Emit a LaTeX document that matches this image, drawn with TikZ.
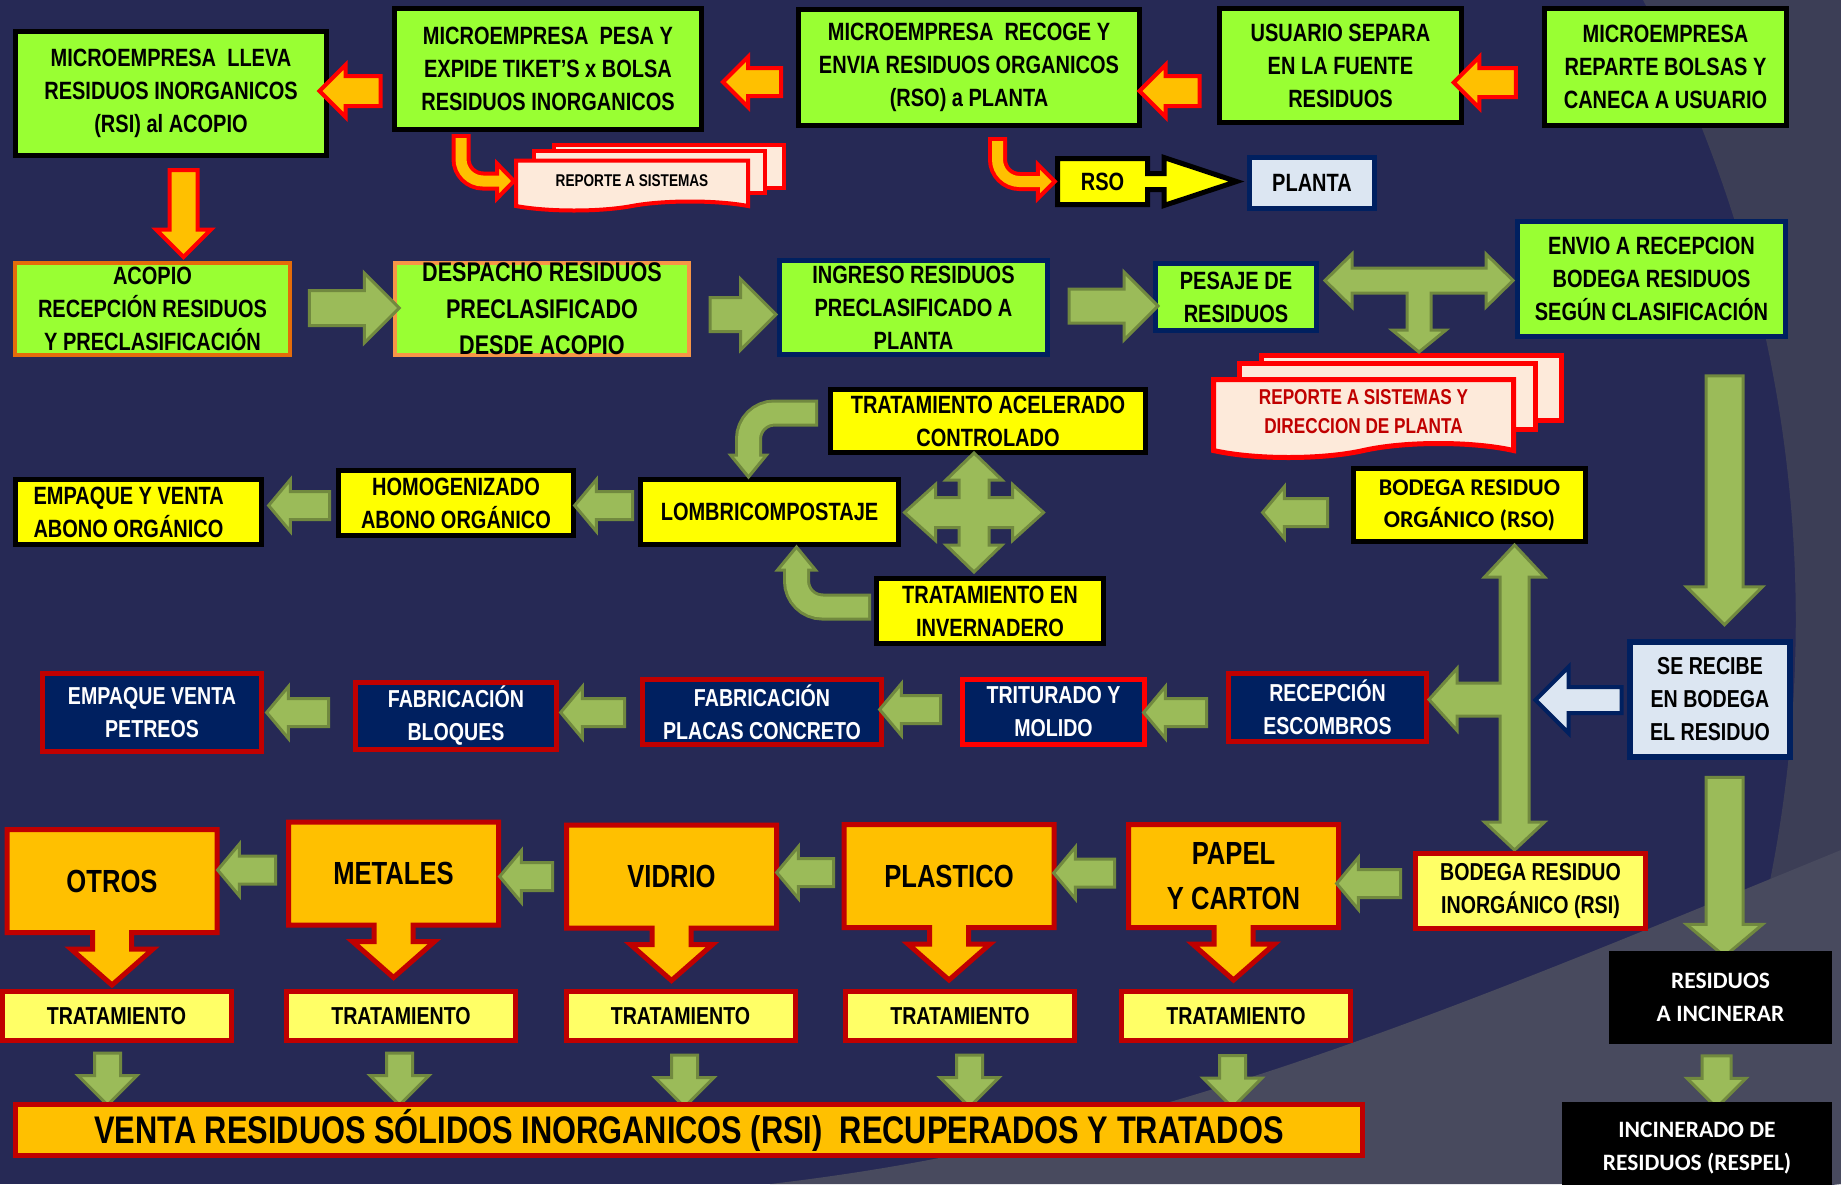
\documentclass[tikz,border=0pt]{standalone}
\usepackage{fontspec}
\setmainfont{Liberation Sans}
\newfontfamily\narrowfont{Liberation Sans}[FakeStretch=0.8]
\newfontfamily\calibfont{Carlito}
\usetikzlibrary{shapes.arrows,shapes.symbols,calc}

\definecolor{fondo}{RGB}{38,41,85}
\definecolor{fondoA}{RGB}{60,62,86}
\definecolor{fondoB}{RGB}{72,74,94}
\definecolor{lima}{RGB}{153,255,51}
\definecolor{naranjaB}{RGB}{228,108,10}
\definecolor{naranjaC}{RGB}{247,150,70}
\definecolor{marino}{RGB}{0,32,96}
\definecolor{amarillo}{RGB}{255,255,0}
\definecolor{amarilloC}{RGB}{255,255,102}
\definecolor{naranja}{RGB}{255,192,0}
\definecolor{rojo}{RGB}{255,0,0}
\definecolor{rojoO}{RGB}{192,0,0}
\definecolor{verdeF}{RGB}{155,187,89}
\definecolor{verdeL}{RGB}{113,137,63}
\definecolor{celeste}{RGB}{220,230,242}
\definecolor{hoja}{RGB}{253,234,218}

\tikzset{
  box/.style={rectangle, inner sep=0pt, align=center},
  sz/.style 2 args={minimum width=#1pt, minimum height=#2pt},
  arr/.style n args={3}{minimum height=#1pt, minimum width=0pt, inner xsep=0pt, inner ysep=#3*0.5pt, single arrow head extend={(#2-#3)*0.5pt}},
  fA/.style={font=\narrowfont\bfseries\fontsize{25}{33}\selectfont},
  fB/.style={font=\narrowfont\bfseries\fontsize{27}{36.5}\selectfont},
  fC/.style={font=\narrowfont\bfseries\fontsize{32}{45}\selectfont},
  fD/.style={font=\calibfont\bfseries\fontsize{24}{32}\selectfont},
  fT/.style={font=\narrowfont\bfseries\fontsize{24.5}{33}\selectfont},
  vbox/.style={box, fill=lima, draw=black, line width=5pt, fA},
  nbox/.style={box, fill=lima, draw=marino, line width=5pt, fA},
  ybox/.style={box, fill=amarillo, draw=black, line width=5pt, fA},
  rbox/.style={box, fill=marino, draw=rojoO, line width=5pt, text=white, fT},
  tbox/.style={box, fill=amarilloC, draw=rojoO, line width=5pt, sz={229}{49}, fT},
  cbox/.style={fill=naranja, draw=rojoO, line width=5pt},
  oarrow/.style={single arrow, fill=naranja, draw=rojo, line width=4pt},
  garrow/.style={single arrow, fill=verdeF, draw=verdeL, line width=3pt},
  gpoly/.style={fill=verdeF, draw=verdeL, line width=3pt},
  docb/.style={rectangle, fill=hoja, draw=rojo, line width=4pt},
  docf/.style={tape, tape bend top=none, tape bend bottom=in and out, fill=hoja, draw=rojo, line width=4pt, inner sep=0pt, align=center},
}

\begin{document}
\begin{tikzpicture}[x=1pt, y=-1pt]
\useasboundingbox (0,0) rectangle (1841,1184);
% fondo
\fill[fondo] (0,0) rectangle (1841,1184);
\fill[fondoA] (1643,0) arc[start angle=27.7, end angle=-26, radius=1333pt] -- (1841,1184) -- (1841,0) -- cycle;
\fill[fondoB] (770,1184) .. controls (1150,1140) and (1450,1010) .. (1841,850) -- (1841,1184) -- cycle;

% fila 1
\node[vbox, sz={311}{124}] (lleva) at (171,93.5) {MICROEMPRESA~~LLEVA\\RESIDUOS INORGANICOS\\(RSI) al ACOPIO};
\node[vbox, sz={307}{121}] (pesa) at (548,69) {MICROEMPRESA~~PESA Y\\EXPIDE TIKET’S x BOLSA\\RESIDUOS INORGANICOS};
\node[vbox, sz={341}{116}] (recoge) at (969,67.5) {MICROEMPRESA~~RECOGE Y\\ENVIA RESIDUOS ORGANICOS\\(RSO) a PLANTA};
\node[vbox, sz={242}{114}] (separa) at (1340.5,65.5) {USUARIO SEPARA\\EN LA FUENTE\\RESIDUOS};
\node[vbox, sz={242}{117}] (reparte) at (1665.5,67) {MICROEMPRESA\\REPARTE BOLSAS Y\\CANECA A USUARIO};

\node[oarrow, rotate=180, arr={62}{47}{25}] (f54) at (1492,82.5) {};
\node[oarrow, rotate=180, arr={60}{48}{26}] (f43) at (1177,91) {};
\node[oarrow, rotate=180, arr={58}{46}{24}] (f32) at (759,82) {};
\node[oarrow, rotate=180, arr={61}{48}{26}] (f21) at (357.5,91) {};
\node[oarrow, rotate=-90, arr={87}{51}{24}] (f1a) at (183.5,206.5) {};

% reportes
\node[docb, sz={230}{43}] (rep1c) at (669,166.5) {};
\node[docb, sz={231}{42}] (rep1b) at (649.5,172) {};
\node[docf, sz={232}{50}, tape bend height=9pt, font=\narrowfont\bfseries\fontsize{17}{20}\selectfont] (rep1) at (632,181) {REPORTE A SISTEMAS};

\draw[line width=19pt, rojo, rounded corners=22pt] ($(pesa.south)+(-87,2)$) |- ($(rep1.west)+(-16,0)$);
\draw[fill=naranja, draw=rojo, line width=4pt] (rep1.west) -- ++(-17,-17.5) -- ++(0,35) -- cycle;
\draw[line width=11pt, naranja, rounded corners=22pt, shorten <=4pt] ($(pesa.south)+(-87,2)$) |- ($(rep1.west)+(-14,0)$);

% RSO y planta
\coordinate (rsoc) at (1102.5,181.5);
\draw[fill=amarillo, draw=black, line width=5pt, shift={(rsoc)}] (-45,-23) -- (45,-23) -- (45,-8) -- (61.5,-8) -- (61.5,-24) -- (134,0) -- (61.5,24) -- (61.5,8) -- (45,8) -- (45,23) -- (-45,23) -- cycle;
\node[box, sz={95}{51}, fA] (rso) at (rsoc) {RSO};
\node[box, fill=celeste, draw=marino, line width=5pt, sz={125}{51}, fA] (planta) at (1312,183) {PLANTA};

\draw[line width=19pt, rojo, rounded corners=22pt] ($(recoge.south)+(28.5,9)$) |- ($(rso.west)+(-16,0)$);
\draw[fill=naranja, draw=rojo, line width=4pt] (rso.west) -- ++(-17,-17) -- ++(0,34) -- cycle;
\draw[line width=11pt, naranja, rounded corners=22pt, shorten <=4pt] ($(recoge.south)+(28.5,9)$) |- ($(rso.west)+(-14,0)$);

% fila 2
\node[box, fill=lima, draw=naranjaB, line width=4pt, sz={275}{92}, fA] (acopio) at (152.5,309) {ACOPIO\\RECEPCIÓN RESIDUOS\\Y PRECLASIFICACIÓN};
\node[box, fill=lima, draw=naranjaC, line width=4pt, sz={294}{92}, fB] (despacho) at (542,309) {DESPACHO RESIDUOS\\PRECLASIFICADO\\DESDE ACOPIO};
\node[nbox, sz={268}{94}] (ingreso) at (913.5,307.5) {INGRESO RESIDUOS\\PRECLASIFICADO A\\PLANTA};
\node[nbox, sz={161}{67}] (pesaje) at (1236,297) {PESAJE DE\\RESIDUOS};
\node[nbox, sz={268}{115}] (envio) at (1651.5,279) {ENVIO A RECEPCION\\BODEGA RESIDUOS\\SEGÚN CLASIFICACIÓN};

\node[garrow, arr={90}{67}{32}] (g12) at (345.5,308) {};
\node[garrow, arr={66}{68}{31}] (g23) at (734.5,314.5) {};
\node[garrow, arr={89}{65}{31}] (g34) at (1105,306) {};

\node[docb, sz={300}{65}, line width=5pt] (rep2c) at (1411.5,388) {};
\node[docb, sz={296}{66}, line width=5pt] (rep2b) at (1387.5,396.5) {};
\node[docf, sz={300}{78}, line width=5pt, tape bend height=14pt, text=rojoO, font=\narrowfont\bfseries\fontsize{21.5}{29}\selectfont] (rep2) at (1363.5,411.5) {REPORTE A SISTEMAS Y\\DIRECCION DE PLANTA};

\coordinate (tcruce) at (1419,280.5);
\draw[gpoly, shift={(tcruce)}] (-94,0) -- (-67,-26.5) -- (-67,-12.5) -- (67,-12.5) -- (67,-26.5) -- (94,0) -- (67,26.5) -- (67,12.5) -- (12,12.5) -- (12,49.5) -- (27,49.5) -- (0,71.5) -- (-27,49.5) -- (-12,49.5) -- (-12,12.5) -- (-67,12.5) -- (-67,26.5) -- cycle;

\node[garrow, rotate=-90, arr={249}{73}{34}] (bajada1) at (1724.5,491) {};

% fila 3 (organicos)
\node[ybox, sz={315}{63}] (acelerado) at (988,421) {TRATAMIENTO ACELERADO\\CONTROLADO};
\node[ybox, sz={258}{65}] (lombri) at (769.5,512) {LOMBRICOMPOSTAJE};
\node[ybox, sz={235}{65}] (homog) at (456,503) {HOMOGENIZADO\\ABONO ORGÁNICO};
\node[ybox, sz={246}{65}, text width=210pt, align=flush left] (abono) at (138.5,512) {EMPAQUE Y VENTA\\ABONO ORGÁNICO};
\node[ybox, sz={227}{65}] (invernadero) at (990,611) {TRATAMIENTO EN\\INVERNADERO};
\node[ybox, sz={232}{73}, fD] (bodegaO) at (1469.5,505) {BODEGA RESIDUO\\ORGÁNICO (RSO)};

\coordinate (cruz) at (974,512.5);
\draw[gpoly, shift={(cruz)}] (-69.5,0) -- (-38.5,-28) -- (-38.5,-15) -- (-15,-15) -- (-15,-32.5) -- (-28,-32.5) -- (0,-59.5) -- (28,-32.5) -- (15,-32.5) -- (15,-15) -- (38.5,-15) -- (38.5,-28) -- (69.5,0) -- (38.5,28) -- (38.5,15) -- (15,15) -- (15,32.5) -- (28,32.5) -- (0,59.5) -- (-28,32.5) -- (-15,32.5) -- (-15,15) -- (-38.5,15) -- (-38.5,28) -- cycle;

\draw[verdeL, line width=27pt, rounded corners=26pt] ($(acelerado.west)+(-10,-8)$) -| ($(lombri.north)+(-21,-22)$);
\draw[gpoly] ($(lombri.north)+(-21,0)$) -- ++(-18,-22) -- ++(36,0) -- cycle;
\draw[verdeF, line width=21pt, rounded corners=26pt, shorten <=3pt] ($(acelerado.west)+(-10,-8)$) -| ($(lombri.north)+(-21,-20)$);

\draw[verdeL, line width=27pt, rounded corners=26pt] ($(invernadero.west)+(-3,-4)$) -| ($(lombri.south)+(27,23)$);
\draw[gpoly] ($(lombri.south)+(27,0)$) -- ++(-19,23) -- ++(38,0) -- cycle;
\draw[verdeF, line width=21pt, rounded corners=26pt, shorten <=3pt] ($(invernadero.west)+(-3,-4)$) -| ($(lombri.south)+(27,21)$);

% fila 4 (escombros)
\node[single arrow, fill=celeste, draw=marino, line width=4pt, rotate=180, arr={86}{62}{22}] (recibeflecha) at (1585,700) {};
\node[box, fill=celeste, draw=marino, line width=6pt, sz={160}{115}, fT] (recibe) at (1710,699.5) {SE RECIBE\\EN BODEGA\\EL RESIDUO};
\node[rbox, sz={219}{78}] (petreos) at (152,712.5) {EMPAQUE VENTA\\PETREOS};
\node[rbox, sz={201}{67}] (bloques) at (456,716) {FABRICACIÓN\\BLOQUES};
\node[rbox, sz={239}{65}] (placas) at (762,712) {FABRICACIÓN\\PLACAS CONCRETO};
\node[rbox, sz={182}{65}, draw=rojo] (triturado) at (1053.5,712) {TRITURADO Y\\MOLIDO};
\node[rbox, sz={198}{68}] (escombros) at (1327.5,707.5) {RECEPCIÓN\\ESCOMBROS};

\coordinate (vcruce) at (1514.5,699.5);
\draw[gpoly, shift={(vcruce)}] (0,-154.5) -- (30,-122.5) -- (14.5,-122.5) -- (14.5,122.5) -- (30,122.5) -- (0,150.5) -- (-30,122.5) -- (-14.5,122.5) -- (-14.5,16.5) -- (-57.5,16.5) -- (-57.5,31) -- (-85.5,0) -- (-57.5,-31) -- (-57.5,-16.5) -- (-14.5,-16.5) -- (-14.5,-122.5) -- (-30,-122.5) -- cycle;

\node[garrow, rotate=-90, arr={179}{73}{34}, single arrow tip angle=100] (bajada2) at (1724.5,859) {};

% fila 5 (inorganicos)
\node[box, fill=amarilloC, draw=rojoO, line width=5pt, sz={230}{75}, fT] (bodegaI) at (1530.5,891) {BODEGA RESIDUO\\INORGÁNICO (RSI)};
\foreach \n/\x/\y/\txt in {otros/112/881/OTROS, metales/393.5/873.5/METALES, vidrio/671.5/876.5/VIDRIO, plastico/949/876/PLASTICO, papel/1233.5/876/{PAPEL\\Y CARTON}}{
  \draw[cbox] (\x,\y) ++(-105,-51.5) -- ++(210,0) -- ++(0,103) -- ++(-85.5,0) -- ++(0,16.5) -- ++(21.5,0) -- ++(-41,36) -- ++(-41,-36) -- ++(21.5,0) -- ++(0,-16.5) -- ++(-85.5,0) -- cycle;
  \node[box, fC] (\n) at (\x,\y) {\txt};
}
\foreach \n/\x/\y/\l in {lh/609.5/505.5/58, ha/305/505.5/61, bo/1301/512.5/65,
  et/1181/712.5/63, tp/916/709.5/61, pb/598.5/712.5/64, bp/303.5/712.5/62,
  om/252.5/870/58, mv/532/876.5/53, vp/811/872.5/57, pp/1090/873/61, ip/1374.5/883.5/64}
  \node[garrow, rotate=180, single arrow tip angle=100, arr={\l}{49}{25}] (g\n) at (\x,\y) {};

% fila 6
\foreach \n/\x in {t1/116.5, t2/401, t3/680.5, t4/960, t5/1236}
  \node[tbox] (\n) at (\x,1016) {TRATAMIENTO};
\foreach \n/\x/\y in {1/107.5/1072.5, 2/399.5/1072.5, 3/684.5/1074.5, 4/969.5/1074.5, 5/1232.5/1075}
  \node[garrow, rotate=-90, arr={52}{56}{23}] (d\n) at (\x,\y) {};
\node[box, fill=naranja, draw=rojoO, line width=5pt, sz={1347}{51}, font=\narrowfont\bfseries\fontsize{38.5}{40}\selectfont] (venta) at (689,1130) {VENTA RESIDUOS SÓLIDOS INORGANICOS (RSI)~~RECUPERADOS Y TRATADOS};

% incinerar
\node[box, fill=black, text=white, sz={223}{93}, font=\calibfont\bfseries\fontsize{23.5}{33}\selectfont] (incinerar) at (1720.5,997.5) {RESIDUOS\\A INCINERAR};
\node[garrow, rotate=-90, arr={52}{56}{26}] (dinc) at (1716.5,1074.5) {};
\node[box, fill=black, text=white, sz={270}{92}, font=\calibfont\bfseries\fontsize{23.5}{33}\selectfont] (respel) at (1697,1148) {INCINERADO DE\\RESIDUOS (RESPEL)};
\end{tikzpicture}
\end{document}
